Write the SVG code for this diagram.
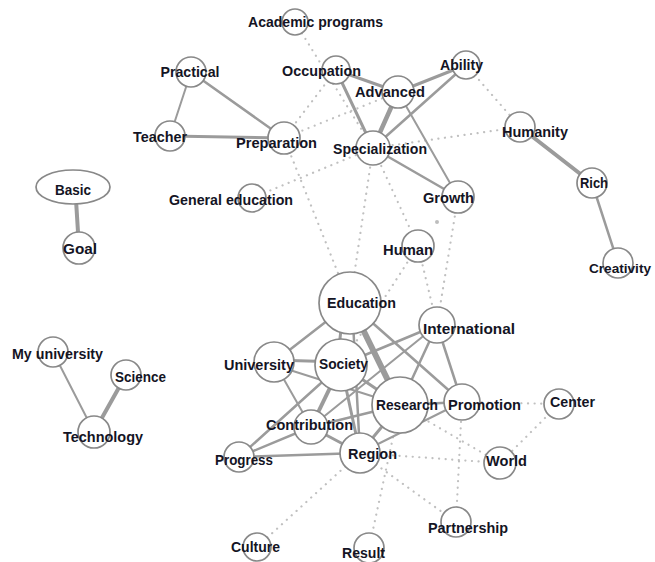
<svg xmlns="http://www.w3.org/2000/svg" width="655" height="562" viewBox="0 0 655 562">
<style>
.e{stroke:#9b9b9b;fill:none;stroke-linecap:round}
.d{stroke:#c0c0c0;fill:none;stroke-width:2.2;stroke-dasharray:0.1 6.5;stroke-linecap:round}
.n circle,.n ellipse{fill:#fff;stroke:#888;stroke-width:1.7}
.n text{font-family:"Liberation Sans",Arial,sans-serif;font-weight:bold;font-size:15px;fill:#141424;text-anchor:middle}
</style>
<rect width="655" height="562" fill="#fff"/>
<g id="connectors">
<line class="d" x1="295" y1="22" x2="373" y2="148"/>
<line class="d" x1="284" y1="138" x2="336" y2="70"/>
<line class="d" x1="284" y1="138" x2="398" y2="92"/>
<line class="d" x1="284" y1="138" x2="350" y2="303"/>
<line class="d" x1="252" y1="198" x2="373" y2="148"/>
<line class="d" x1="373" y1="148" x2="350" y2="303"/>
<line class="d" x1="373" y1="148" x2="418" y2="246"/>
<line class="d" x1="373" y1="148" x2="520" y2="127"/>
<line class="d" x1="466" y1="65" x2="520" y2="127"/>
<line class="d" x1="458" y1="197" x2="437" y2="325"/>
<line class="d" x1="418" y1="246" x2="437" y2="325"/>
<line class="d" x1="418" y1="246" x2="341" y2="365"/>
<line class="d" x1="462" y1="402" x2="559" y2="404"/>
<line class="d" x1="559" y1="404" x2="500" y2="463"/>
<line class="d" x1="400" y1="405" x2="500" y2="463"/>
<line class="d" x1="462" y1="402" x2="456" y2="522"/>
<line class="d" x1="360" y1="453" x2="500" y2="463"/>
<line class="d" x1="360" y1="453" x2="456" y2="522"/>
<line class="d" x1="400" y1="405" x2="369" y2="548"/>
<line class="d" x1="360" y1="453" x2="257" y2="547"/>
<circle cx="437" cy="222" r="2" fill="#bdbdbd"/>

<line class="e" stroke-width="2" x1="191" y1="72" x2="170" y2="136"/>
<line class="e" stroke-width="2.5" x1="191" y1="72" x2="284" y2="138"/>
<line class="e" stroke-width="3" x1="170" y1="136" x2="284" y2="138"/>
<line class="e" stroke-width="3" x1="336" y1="70" x2="398" y2="92"/>
<line class="e" stroke-width="3" x1="336" y1="70" x2="373" y2="148"/>
<line class="e" stroke-width="3" x1="398" y1="92" x2="466" y2="65"/>
<line class="e" stroke-width="4.5" x1="398" y1="92" x2="373" y2="148"/>
<line class="e" stroke-width="2.5" x1="466" y1="65" x2="373" y2="148"/>
<line class="e" stroke-width="2" x1="398" y1="92" x2="458" y2="197"/>
<line class="e" stroke-width="2.5" x1="373" y1="148" x2="458" y2="197"/>
<line class="e" stroke-width="4" x1="520" y1="127" x2="592" y2="183"/>
<line class="e" stroke-width="2.5" x1="592" y1="183" x2="618" y2="263"/>
<line class="e" stroke-width="4" x1="76" y1="200" x2="79" y2="248"/>
<line class="e" stroke-width="2" x1="53" y1="352" x2="94" y2="432"/>
<line class="e" stroke-width="4" x1="126" y1="375" x2="94" y2="432"/>

<line class="e" stroke-width="2.5" x1="350" y1="303" x2="274" y2="362"/>
<line class="e" stroke-width="3" x1="344" y1="303" x2="337" y2="365"/>
<line class="e" stroke-width="2.5" x1="352" y1="303" x2="360" y2="453"/>
<line class="e" stroke-width="6" x1="350" y1="303" x2="400" y2="405"/>
<line class="e" stroke-width="2.5" x1="350" y1="303" x2="462" y2="402"/>
<line class="e" stroke-width="3" x1="274" y1="360" x2="341" y2="362"/>
<line class="e" stroke-width="2" x1="274" y1="362" x2="311" y2="427"/>
<line class="e" stroke-width="2" x1="274" y1="365" x2="400" y2="405"/>
<line class="e" stroke-width="3" x1="341" y1="365" x2="400" y2="405"/>
<line class="e" stroke-width="4" x1="341" y1="365" x2="311" y2="427"/>
<line class="e" stroke-width="3" x1="341" y1="365" x2="360" y2="453"/>
<line class="e" stroke-width="2.5" x1="341" y1="365" x2="239" y2="457"/>
<line class="e" stroke-width="2.5" x1="341" y1="365" x2="437" y2="325"/>
<line class="e" stroke-width="2.5" x1="311" y1="427" x2="239" y2="457"/>
<line class="e" stroke-width="3" x1="311" y1="427" x2="360" y2="453"/>
<line class="e" stroke-width="2.5" x1="311" y1="427" x2="400" y2="405"/>
<line class="e" stroke-width="2" x1="311" y1="427" x2="437" y2="325"/>
<line class="e" stroke-width="2.5" x1="239" y1="457" x2="360" y2="453"/>
<line class="e" stroke-width="3" x1="400" y1="405" x2="360" y2="453"/>
<line class="e" stroke-width="2.5" x1="400" y1="405" x2="437" y2="325"/>
<line class="e" stroke-width="2.5" x1="400" y1="405" x2="462" y2="402"/>
<line class="e" stroke-width="2.5" x1="437" y1="325" x2="462" y2="402"/>
<line class="e" stroke-width="2" x1="360" y1="453" x2="462" y2="402"/>
</g>
<g id="n-academic" class="n"><circle cx="295" cy="22" r="13"/><text x="315.5" y="27" textLength="135" lengthAdjust="spacingAndGlyphs">Academic programs</text></g>
<g id="n-practical" class="n"><circle cx="191" cy="72" r="15"/><text x="190" y="77" textLength="59" lengthAdjust="spacingAndGlyphs">Practical</text></g>
<g id="n-occupation" class="n"><circle cx="336" cy="70" r="14"/><text x="321.5" y="76" textLength="79" lengthAdjust="spacingAndGlyphs">Occupation</text></g>
<g id="n-advanced" class="n"><circle cx="398" cy="92" r="16"/><text x="390" y="97" textLength="70" lengthAdjust="spacingAndGlyphs">Advanced</text></g>
<g id="n-ability" class="n"><circle cx="466" cy="65" r="14"/><text x="461.5" y="70" textLength="43" lengthAdjust="spacingAndGlyphs">Ability</text></g>
<g id="n-teacher" class="n"><circle cx="170" cy="136" r="15"/><text x="160" y="142" textLength="54" lengthAdjust="spacingAndGlyphs">Teacher</text></g>
<g id="n-preparation" class="n"><circle cx="284" cy="138" r="16"/><text x="276.5" y="148" textLength="81" lengthAdjust="spacingAndGlyphs">Preparation</text></g>
<g id="n-specialization" class="n"><circle cx="373" cy="148" r="17"/><text x="380" y="154" textLength="94" lengthAdjust="spacingAndGlyphs">Specialization</text></g>
<g id="n-humanity" class="n"><circle cx="520" cy="127" r="15"/><text x="535" y="137" textLength="66" lengthAdjust="spacingAndGlyphs">Humanity</text></g>
<g id="n-basic" class="n"><ellipse cx="73" cy="187" rx="37" ry="17"/><text x="73" y="195" textLength="36" lengthAdjust="spacingAndGlyphs">Basic</text></g>
<g id="n-general-education" class="n"><circle cx="252" cy="198" r="14"/><text x="231" y="205" textLength="124" lengthAdjust="spacingAndGlyphs">General education</text></g>
<g id="n-growth" class="n"><circle cx="458" cy="197" r="16"/><text x="448.5" y="203" textLength="51" lengthAdjust="spacingAndGlyphs">Growth</text></g>
<g id="n-rich" class="n"><circle cx="592" cy="183" r="15"/><text x="594" y="188" textLength="28" lengthAdjust="spacingAndGlyphs">Rich</text></g>
<g id="n-goal" class="n"><circle cx="79" cy="248" r="16"/><text x="80" y="254" textLength="34" lengthAdjust="spacingAndGlyphs">Goal</text></g>
<g id="n-human" class="n"><circle cx="418" cy="246" r="16"/><text x="408" y="255" textLength="50" lengthAdjust="spacingAndGlyphs">Human</text></g>
<g id="n-creativity" class="n"><circle cx="618" cy="263" r="15"/><text x="620" y="273" style="font-size:13px" textLength="62" lengthAdjust="spacingAndGlyphs">Creativity</text></g>
<g id="n-education" class="n"><circle cx="350" cy="303" r="31"/><text x="361.5" y="308" textLength="69" lengthAdjust="spacingAndGlyphs">Education</text></g>
<g id="n-international" class="n"><circle cx="437" cy="325" r="18"/><text x="469" y="334" textLength="92" lengthAdjust="spacingAndGlyphs">International</text></g>
<g id="n-my-university" class="n"><circle cx="53" cy="352" r="15"/><text x="57.5" y="359" textLength="91" lengthAdjust="spacingAndGlyphs">My university</text></g>
<g id="n-university" class="n"><circle cx="274" cy="362" r="20"/><text x="259" y="370" textLength="70" lengthAdjust="spacingAndGlyphs">University</text></g>
<g id="n-society" class="n"><circle cx="341" cy="365" r="26"/><text x="343.5" y="369" textLength="49" lengthAdjust="spacingAndGlyphs">Society</text></g>
<g id="n-science" class="n"><circle cx="126" cy="375" r="15"/><text x="140.5" y="382" textLength="51" lengthAdjust="spacingAndGlyphs">Science</text></g>
<g id="n-research" class="n"><circle cx="400" cy="405" r="28"/><text x="407" y="410" textLength="62" lengthAdjust="spacingAndGlyphs">Research</text></g>
<g id="n-promotion" class="n"><circle cx="462" cy="402" r="18"/><text x="484.5" y="410" textLength="73" lengthAdjust="spacingAndGlyphs">Promotion</text></g>
<g id="n-center" class="n"><circle cx="559" cy="404" r="15"/><text x="572.5" y="407" textLength="45" lengthAdjust="spacingAndGlyphs">Center</text></g>
<g id="n-contribution" class="n"><circle cx="311" cy="427" r="17"/><text x="309.5" y="430" textLength="87" lengthAdjust="spacingAndGlyphs">Contribution</text></g>
<g id="n-technology" class="n"><circle cx="94" cy="432" r="16"/><text x="103" y="442" textLength="80" lengthAdjust="spacingAndGlyphs">Technology</text></g>
<g id="n-region" class="n"><circle cx="360" cy="453" r="20"/><text x="372.5" y="459" textLength="49" lengthAdjust="spacingAndGlyphs">Region</text></g>
<g id="n-progress" class="n"><circle cx="239" cy="457" r="15"/><text x="244" y="465" textLength="58" lengthAdjust="spacingAndGlyphs">Progress</text></g>
<g id="n-world" class="n"><circle cx="500" cy="463" r="16"/><text x="506.5" y="466" textLength="41" lengthAdjust="spacingAndGlyphs">World</text></g>
<g id="n-partnership" class="n"><circle cx="456" cy="522" r="15"/><text x="468" y="533" textLength="80" lengthAdjust="spacingAndGlyphs">Partnership</text></g>
<g id="n-result" class="n"><circle cx="369" cy="548" r="15"/><text x="363.5" y="558" textLength="43" lengthAdjust="spacingAndGlyphs">Result</text></g>
<g id="n-culture" class="n"><circle cx="257" cy="547" r="14"/><text x="255.5" y="552" textLength="49" lengthAdjust="spacingAndGlyphs">Culture</text></g>
</svg>
